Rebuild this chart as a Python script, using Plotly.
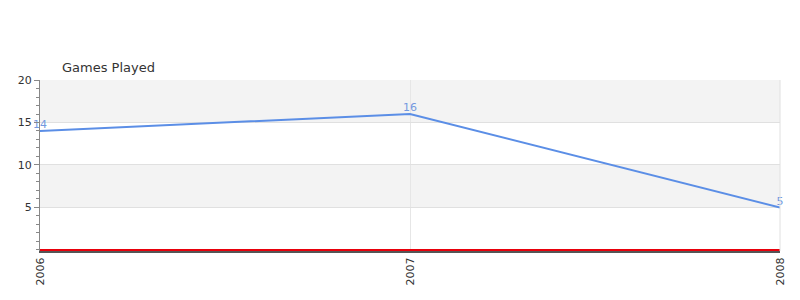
import plotly.graph_objects as go

years = [2006, 2007, 2008]
games_played = [14, 16, 5]
baseline = [0, 0, 0]
y_ticks = [5, 10, 15, 20]

fig = go.Figure()

# alternating bands
bands = [(15, 20), (5, 10)]
for lo, hi in bands:
    fig.add_shape(type="rect", xref="paper", yref="y", x0=0, x1=1, y0=lo, y1=hi,
                  fillcolor="#f3f3f3", line_width=0, layer="below")

fig.add_trace(go.Scatter(x=years, y=baseline, mode="lines",
                         line=dict(color="#e8000b", width=2), hoverinfo="skip",
                         cliponaxis=False))
fig.add_trace(go.Scatter(x=years, y=games_played, mode="lines+text",
                         text=[str(v) for v in games_played], textposition="top center",
                         textfont=dict(color="#7399e0", size=11, family="DejaVu Sans"),
                         line=dict(color="#5b8ee6", width=2), cliponaxis=False))

fig.update_layout(
    width=800, height=300,
    margin=dict(l=40, r=20, t=80, b=49),
    plot_bgcolor="white", paper_bgcolor="white",
    showlegend=False,
    font=dict(family="DejaVu Sans", size=11, color="#333"),
    title=dict(text="Games Played", x=62/800, xanchor="left", y=1-67/300, yanchor="middle",
               font=dict(size=13, color="#333", family="DejaVu Sans")),
)
fig.update_xaxes(range=[2006, 2008], tickvals=years, ticktext=[str(y) for y in years],
                 tickangle=-90, showgrid=True, gridcolor="#e6e6e6", gridwidth=1,
                 showline=True, linecolor="#555", linewidth=2, mirror=False,
                 zeroline=False, ticks="", tickfont=dict(size=11, color="#333"))
fig.update_yaxes(range=[-0.12, 20], tickvals=y_ticks, showgrid=True, gridcolor="#e0e0e0",
                 showline=True, linecolor="#888", linewidth=1, zeroline=False,
                 ticks="outside", ticklen=5, tickcolor="#888",
                 minor=dict(tick0=0, dtick=1, ticks="outside", ticklen=3, tickcolor="#888", showgrid=False),
                 tickfont=dict(size=11, color="#333"))

# right border line
fig.add_shape(type="line", xref="paper", yref="paper", x0=1, x1=1, y0=0, y1=1,
              line=dict(color="#e0e0e0", width=1))

fig.write_html("out.html")
